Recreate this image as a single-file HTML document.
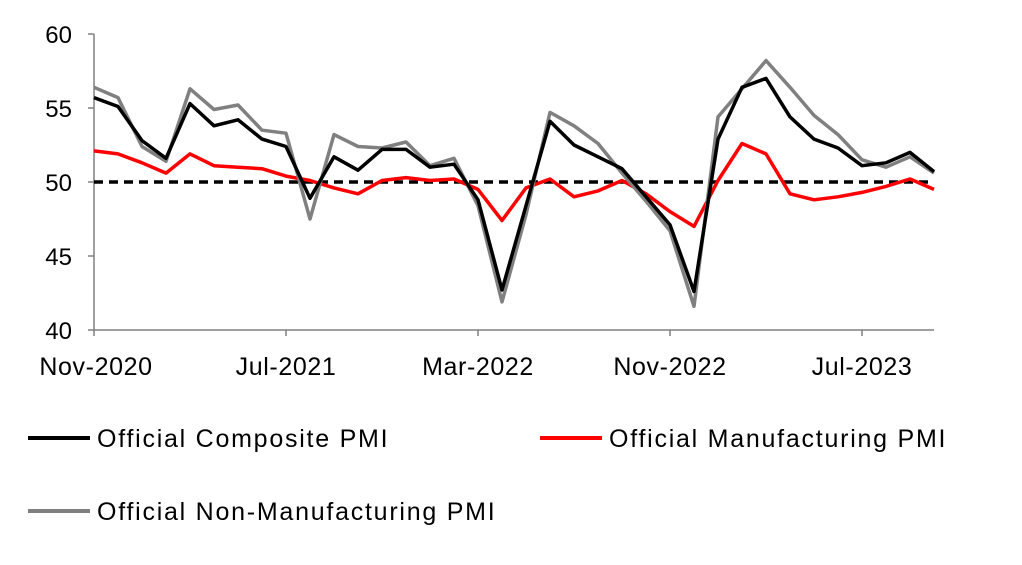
<!DOCTYPE html>
<html><head><meta charset="utf-8"><style>
html,body{margin:0;padding:0;background:#fff;}
svg{display:block;font-family:"Liberation Sans",Arial,sans-serif;}
</style></head><body>
<svg width="1022" height="565" viewBox="0 0 1022 565" xmlns="http://www.w3.org/2000/svg">
<g font-size="24" fill="#000" text-anchor="end">
<text x="72" y="43">60</text>
<text x="72" y="117">55</text>
<text x="72" y="191">50</text>
<text x="72" y="265">45</text>
<text x="72" y="339">40</text>
</g>
<g stroke="#808080" stroke-width="1.5">
<line x1="94" y1="34" x2="94" y2="330"/>
<line x1="94" y1="330" x2="934" y2="330"/>
<line x1="88" y1="34" x2="94" y2="34"/>
<line x1="88" y1="108" x2="94" y2="108"/>
<line x1="88" y1="182" x2="94" y2="182"/>
<line x1="88" y1="256" x2="94" y2="256"/>
<line x1="88" y1="330" x2="94" y2="330"/>
<line x1="94" y1="330" x2="94" y2="336"/>
<line x1="286" y1="330" x2="286" y2="336"/>
<line x1="478" y1="330" x2="478" y2="336"/>
<line x1="670" y1="330" x2="670" y2="336"/>
<line x1="862" y1="330" x2="862" y2="336"/>
</g>
<g font-size="25" text-anchor="middle" letter-spacing="0.6">
<text x="96" y="375">Nov-2020</text>
<text x="286" y="375">Jul-2021</text>
<text x="478" y="375">Mar-2022</text>
<text x="670" y="375">Nov-2022</text>
<text x="862" y="375">Jul-2023</text>
</g>
<line x1="94" y1="182" x2="934" y2="182" stroke="#000" stroke-width="3.5" stroke-dasharray="9,6"/>
<g id="lines" fill="none" stroke-width="3.5" stroke-linejoin="round"></g>
<g font-size="25" letter-spacing="1.75">
<line x1="28" y1="438" x2="90" y2="438" stroke="#000" stroke-width="4"/>
<text x="97" y="447">Official Composite PMI</text>
<line x1="540" y1="438" x2="602" y2="438" stroke="#ff0000" stroke-width="4"/>
<text x="609" y="447">Official Manufacturing PMI</text>
<line x1="28" y1="511" x2="90" y2="511" stroke="#808080" stroke-width="4"/>
<text x="97" y="520">Official Non-Manufacturing PMI</text>
</g>
<script>
var m=[52.1,51.9,51.3,50.6,51.9,51.1,51.0,50.9,50.4,50.1,49.6,49.2,50.1,50.3,50.1,50.2,49.5,47.4,49.6,50.2,49.0,49.4,50.1,49.2,48.0,47.0,50.1,52.6,51.9,49.2,48.8,49.0,49.3,49.7,50.2,49.5];
var n=[56.4,55.7,52.4,51.4,56.3,54.9,55.2,53.5,53.3,47.5,53.2,52.4,52.3,52.7,51.1,51.6,48.4,41.9,47.8,54.7,53.8,52.6,50.6,48.7,46.7,41.6,54.4,56.3,58.2,56.4,54.5,53.2,51.5,51.0,51.7,50.6];
var c=[55.7,55.1,52.8,51.6,55.3,53.8,54.2,52.9,52.4,48.9,51.7,50.8,52.2,52.2,51.0,51.2,48.8,42.7,48.4,54.1,52.5,51.7,50.9,49.0,47.1,42.6,52.9,56.4,57.0,54.4,52.9,52.3,51.1,51.3,52.0,50.7];
function pts(a){return a.map(function(v,i){return (94+24*i)+","+(330-(v-40)*14.8).toFixed(1)}).join(" ");}
var g=document.getElementById("lines");
[[m,"#ff0000"],[n,"#808080"],[c,"#000"]].forEach(function(s){
var p=document.createElementNS("http://www.w3.org/2000/svg","polyline");
p.setAttribute("points",pts(s[0]));p.setAttribute("stroke",s[1]);g.appendChild(p);});
</script>
</svg>
</body></html>
